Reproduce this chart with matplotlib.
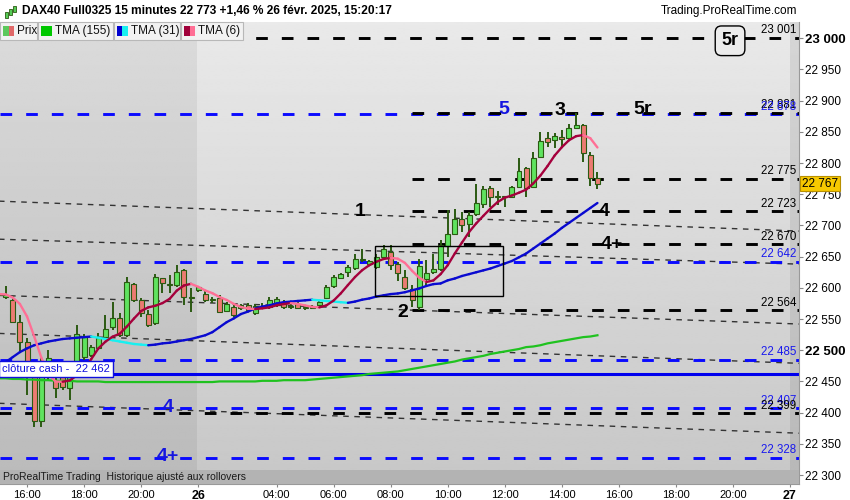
import matplotlib.pyplot as plt
import numpy as np
import pandas as pd
from matplotlib.collections import LineCollection
from matplotlib.patches import Rectangle
from matplotlib.transforms import blended_transform_factory

plt.rcParams['font.family'] = ['Liberation Sans', 'DejaVu Sans']

# one unit = one 15 min bar, 0 = 25 Feb 16:00 (overnight gap skipped)
bars = list(range(-4, 81))

opens = [22588, 22585, 22580, 22545, 22513, 22471, 22386, 22468, 22452, 22457,
         22439, 22481, 22489, 22492, 22503, 22522, 22537, 22551, 22524, 22606,
         22580, 22558, 22543, 22616, 22606, 22604, 22628, 22583, 22596, 22590,
         22582, 22583, 22563, 22569, 22567, 22572, 22559, 22571, 22569, 22572,
         22577, 22569, 22574, 22570, 22569, 22572, 22583, 22603, 22616, 22625,
         22632, 22644, 22638, 22633, 22649, 22657, 22638, 22617, 22598, 22570,
         22614, 22625, 22630, 22667, 22687, 22710, 22702, 22718, 22734, 22760,
         22747, 22747, 22745, 22761, 22792, 22761, 22809, 22840, 22837, 22841,
         22840, 22857, 22861, 22813, 22776]
highs = [22600, 22603, 22587, 22556, 22519, 22481, 22489, 22500, 22465, 22465,
         22476, 22540, 22526, 22508, 22527, 22556, 22577, 22559, 22617, 22607,
         22583, 22564, 22622, 22616, 22620, 22636, 22631, 22599, 22601, 22596,
         22585, 22588, 22577, 22572, 22574, 22575, 22574, 22575, 22585, 22585,
         22580, 22574, 22577, 22572, 22572, 22580, 22604, 22620, 22623, 22636,
         22654, 22663, 22644, 22655, 22668, 22668, 22641, 22628, 22604, 22647,
         22644, 22655, 22676, 22724, 22726, 22721, 22721, 22766, 22764, 22763,
         22755, 22748, 22764, 22808, 22793, 22817, 22849, 22849, 22848, 22853,
         22862, 22880, 22862, 22817, 22785]
lows = [22580, 22582, 22543, 22497, 22428, 22377, 22377, 22452, 22423, 22436,
        22420, 22471, 22484, 22489, 22500, 22521, 22532, 22521, 22521, 22577,
        22554, 22537, 22540, 22591, 22591, 22601, 22572, 22561, 22593, 22577,
        22575, 22559, 22561, 22553, 22564, 22561, 22556, 22566, 22566, 22569,
        22566, 22566, 22566, 22564, 22566, 22571, 22582, 22599, 22614, 22617,
        22628, 22641, 22635, 22630, 22646, 22628, 22611, 22596, 22569, 22564,
        22601, 22622, 22627, 22649, 22684, 22689, 22681, 22715, 22728, 22729,
        22732, 22729, 22744, 22760, 22745, 22760, 22808, 22825, 22824, 22825,
        22838, 22856, 22801, 22764, 22758]
closes = [22590, 22588, 22545, 22513, 22471, 22386, 22457, 22487, 22439, 22441,
          22460, 22526, 22522, 22505, 22519, 22534, 22551, 22524, 22609, 22580,
          22559, 22540, 22617, 22607, 22605, 22625, 22585, 22586, 22601, 22580,
          22581, 22561, 22574, 22556, 22572, 22564, 22571, 22570, 22580, 22582,
          22569, 22570, 22567, 22567, 22568, 22577, 22601, 22617, 22622, 22633,
          22646, 22647, 22643, 22649, 22662, 22636, 22623, 22599, 22580, 22635,
          22623, 22631, 22668, 22687, 22710, 22700, 22716, 22736, 22758, 22745,
          22746, 22745, 22761, 22787, 22760, 22808, 22835, 22833, 22843, 22838,
          22856, 22861, 22816, 22776, 22767]

tma31 = [22477, 22481, 22489, 22497, 22503, 22508, 22511, 22514, 22516, 22518,
         22519, 22520, 22521, 22522, 22520, 22518, 22516, 22514, 22512, 22510,
         22509, 22508, 22509, 22511, 22512, 22514, 22516, 22518, 22521, 22524,
         22529, 22537, 22545, 22551, 22558, 22562, 22567, 22570, 22572, 22575,
         22577, 22578, 22579, 22580, 22581, 22580, 22579, 22578, 22577, 22576,
         22578, 22581, 22583, 22586, 22588, 22590, 22591, 22593, 22596, 22599,
         22603, 22606, 22607, 22612, 22615, 22619, 22622, 22625, 22628, 22631,
         22635, 22639, 22643, 22649, 22655, 22663, 22671, 22679, 22687, 22696,
         22704, 22712, 22720, 22728, 22736]
tma155 = [22455, 22455, 22454, 22454, 22453, 22453, 22452, 22452, 22451, 22451,
          22451, 22450, 22450, 22450, 22450, 22449, 22449, 22449, 22449, 22449,
          22449, 22449, 22449, 22449, 22449, 22449, 22449, 22449, 22449, 22449,
          22449, 22450, 22450, 22450, 22450, 22450, 22450, 22451, 22451, 22451,
          22452, 22452, 22452, 22452, 22453, 22454, 22455, 22456, 22457, 22458,
          22459, 22460, 22462, 22463, 22464, 22465, 22466, 22468, 22470, 22472,
          22474, 22476, 22478, 22480, 22482, 22485, 22487, 22489, 22491, 22494,
          22496, 22498, 22500, 22502, 22505, 22506, 22508, 22511, 22513, 22515,
          22517, 22519, 22521, 22522, 22524]

blue_levels = [22878, 22642, 22485, 22407, 22328]
black_levels = [23001, 22881, 22775, 22723, 22670, 22564, 22399]
black_level_start = [28.5, 54, 54, 54, 54, 54, -4]
cash_close = 22462
last_price = 22767

# trend lines: (bar, price) -> (bar, price)
trend_lines = [(-4, 22739, 108.3, 22691), (-4, 22678, 108.3, 22638),
               (-4, 22588, 108.3, 22542), (-4, 22527, 108.3, 22479),
               (-4, 22415, 108.3, 22367)]

# wave labels: text, bar, price, colour
wave_labels = [('1', 46.7, 22723, 'black'), ('2', 52.7, 22560, 'black'),
               ('3', 74.8, 22884, 'black'), ('4', 80.9, 22723, 'black'),
               ('4+', 82.0, 22670, 'black'), ('5', 66.8, 22886, '#1515e0'),
               ('5r', 86.3, 22886, 'black'), ('4', 19.8, 22409, '#1515e0'),
               ('4+', 19.8, 22330, '#1515e0')]

xtick_pos = [0, 8, 16, 24, 35, 43, 51, 59, 67, 75, 83, 91, 99, 107]
xtick_lab = ['16:00', '18:00', '20:00', '26', '04:00', '06:00', '08:00', '10:00',
             '12:00', '14:00', '16:00', '18:00', '20:00', '27']

XMIN, XMAX = -3.79, 108.27
YMIN, YMAX = 22285.6, 23026.1

fig = plt.figure(figsize=(8.5, 5), dpi=100)
ax = fig.add_axes([0, 16 / 500, 799 / 850, 462 / 500])


def shade(x0, x1, top, bottom):
    g = np.linspace(top, bottom, 200).reshape(-1, 1)
    ax.imshow(g, extent=(x0, x1, YMIN, YMAX), aspect='auto', cmap='gray',
              vmin=0, vmax=1, zorder=0, interpolation='bilinear')


shade(XMIN, 23.8, 0.86, 0.73)
shade(23.8, 107, 0.915, 0.78)
shade(107, XMAX, 0.84, 0.72)

# trend lines
for x0, y0, x1, y1 in trend_lines:
    ax.plot([x0, x1], [y0, y1], color='#333333', lw=1.0, ls=(0, (4, 4)), zorder=2)

# horizontal levels
for lv in blue_levels:
    ax.plot([XMIN, XMAX], [lv, lv], color='#0a0aff', lw=2.1, ls=(0, (4, 4.8)), zorder=2)
for lv, st in zip(black_levels, black_level_start):
    ax.plot([st, XMAX], [lv, lv], color='black', lw=2.1, ls=(0, (4, 4.8)), zorder=2)
ax.axhline(cash_close, color='#0000ee', lw=2.2, zorder=2)

# candles
o = np.array(opens)
c = np.array(closes)
up = c >= o
ax.vlines(bars, lows, highs, color='#2b5a12', lw=1.4, zorder=4)
body_lo = np.minimum(o, c)
body_h = np.maximum(np.abs(c - o), 1.5)
ax.bar(bars, body_h, bottom=body_lo, width=0.7,
       color=np.where(up, '#5fe35f', '#ec7b72'), edgecolor='#2b5a12',
       linewidth=0.8, zorder=4)


def colored_line(x, y, up_col, down_col, lw):
    x = np.asarray(x, float)
    y = np.asarray(y, float)
    pts = np.column_stack([x, y])
    segs = np.stack([pts[:-1], pts[1:]], axis=1)
    cols = [up_col if b >= a else down_col for a, b in zip(y[:-1], y[1:])]
    ax.add_collection(LineCollection(segs, colors=cols, linewidths=lw,
                                     capstyle='round', zorder=6))


tma6 = pd.Series(closes, dtype=float).rolling(4, min_periods=1).mean() \
    .rolling(3, min_periods=1).mean()

ax.plot(bars, tma155, color='#1fc21f', lw=1.6, zorder=5)
colored_line(bars, tma31, '#0a0ad0', '#18f0f0', 1.7)
colored_line(bars, tma6.values, '#a5003c', '#ff6f95', 1.7)

# box around the 2 area
ax.add_patch(Rectangle((48.8, 22587), 18, 80, fill=False, ec='black', lw=1, zorder=6))

for txt, bx, py, col in wave_labels:
    ax.text(bx, py, txt, color=col, fontsize=14, fontweight='bold',
            ha='center', va='center', zorder=7)

ax.text(98.6, 22996, '5r', fontsize=13, fontweight='bold', ha='center', va='center',
        zorder=7, bbox=dict(boxstyle='round,pad=0.35', fc='#ececec', ec='black', lw=1))

# level values on the right
inner = [(23001, 'black'), (22881, 'black'), (22878, '#1a1aee'), (22775, 'black'),
         (22723, 'black'), (22670, 'black'), (22642, '#1a1aee'), (22564, 'black'),
         (22485, '#1a1aee'), (22407, '#1a1aee'), (22399, 'black'), (22328, '#1a1aee')]
for lv, col in inner:
    ax.text(107.9, lv + 2, f'{lv:,}'.replace(',', ' '), color=col, fontsize=8.3,
            ha='right', va='bottom', zorder=7)

ax.text(-3.5, 22470, 'clôture cash -  22 462', color='#1010dd', fontsize=8,
        ha='left', va='center', zorder=9,
        bbox=dict(boxstyle='square,pad=0.25', fc='white', ec='#1010dd', lw=1))

# footer band
ax.add_patch(Rectangle((0, 0), 1, 14 / 462, transform=ax.transAxes,
                       fc='#b3b3b3', ec='none', zorder=8))
ax.text(0.004, 7 / 462, 'ProRealTime Trading  Historique ajusté aux rollovers',
        transform=ax.transAxes, fontsize=7.5, color='#1a1a1a', va='center', zorder=9)

ax.set_xlim(XMIN, XMAX)
ax.set_ylim(YMIN, YMAX)

ax.set_xticks(xtick_pos)
ax.set_xticklabels(xtick_lab, fontsize=8)
for lab in ax.get_xticklabels():
    if lab.get_text() in ('26', '27'):
        lab.set_fontweight('bold')
        lab.set_fontsize(9)
ax.tick_params(axis='x', length=2, pad=2, color='#888888')

yt = list(range(22300, 23001, 50))
ax.yaxis.tick_right()
ax.set_yticks(yt)
ax.set_yticklabels([f'{v:,}'.replace(',', ' ') for v in yt], fontsize=8.5)
for lab, v in zip(ax.get_yticklabels(), yt):
    if v % 500 == 0:
        lab.set_fontweight('bold')
        lab.set_fontsize(9.5)
ax.tick_params(axis='y', length=3, pad=1.5, color='#888888')

for s in ('top', 'left'):
    ax.spines[s].set_visible(False)
ax.spines['right'].set_color('#999999')
ax.spines['bottom'].set_color('#999999')

ax.text(1.004, last_price, f'{last_price:,}'.replace(',', ' '),
        transform=blended_transform_factory(ax.transAxes, ax.transData),
        fontsize=8.5, va='center', ha='left', clip_on=False, zorder=10,
        bbox=dict(boxstyle='square,pad=0.15', fc='#f7c900', ec='#b89000', lw=0.8))

# header


def fx(x):
    return x / 850


def fy(y):
    return 1 - y / 500


fig.text(fx(22), fy(11), 'DAX40 Full0325 15 minutes 22 773 +1,46 % 26 févr. 2025, 15:20:17',
         fontsize=8.6, fontweight='bold', va='center')
fig.text(fx(797), fy(11), 'Trading.ProRealTime.com', fontsize=8.5, ha='right', va='center')
for x0, y0, h in [(5, 12, 6), (9, 9, 6), (13, 6, 6)]:
    fig.add_artist(Rectangle((fx(x0), fy(y0 + h)), 3 / 850, h / 500,
                             transform=fig.transFigure, fc='#55cc55', ec='#2b5a12', lw=0.6))

tabs = [(0, 37, 'Prix', ['#5cc85c', '#e06868']),
        (38, 113, 'TMA (155)', ['#00c800']),
        (114, 180, 'TMA (31)', ['#0000d0', '#18f0f0']),
        (181, 243, 'TMA (6)', ['#a0003a', '#ff6f95'])]
for x0, x1, name, cols in tabs:
    fig.add_artist(Rectangle((fx(x0), fy(40)), (x1 - x0) / 850, 18 / 500,
                             transform=fig.transFigure, fc='#f2f2f2', ec='#b8b8b8', lw=0.8))
    w = 11 / len(cols)
    for i, col in enumerate(cols):
        fig.add_artist(Rectangle((fx(x0 + 3 + i * w), fy(36)), w / 850, 10 / 500,
                                 transform=fig.transFigure, fc=col, ec='none'))
    fig.text(fx(x0 + 17), fy(31), name, fontsize=8.5, va='center', color='#111111')

fig.savefig('out.png', dpi=100, facecolor='white')
